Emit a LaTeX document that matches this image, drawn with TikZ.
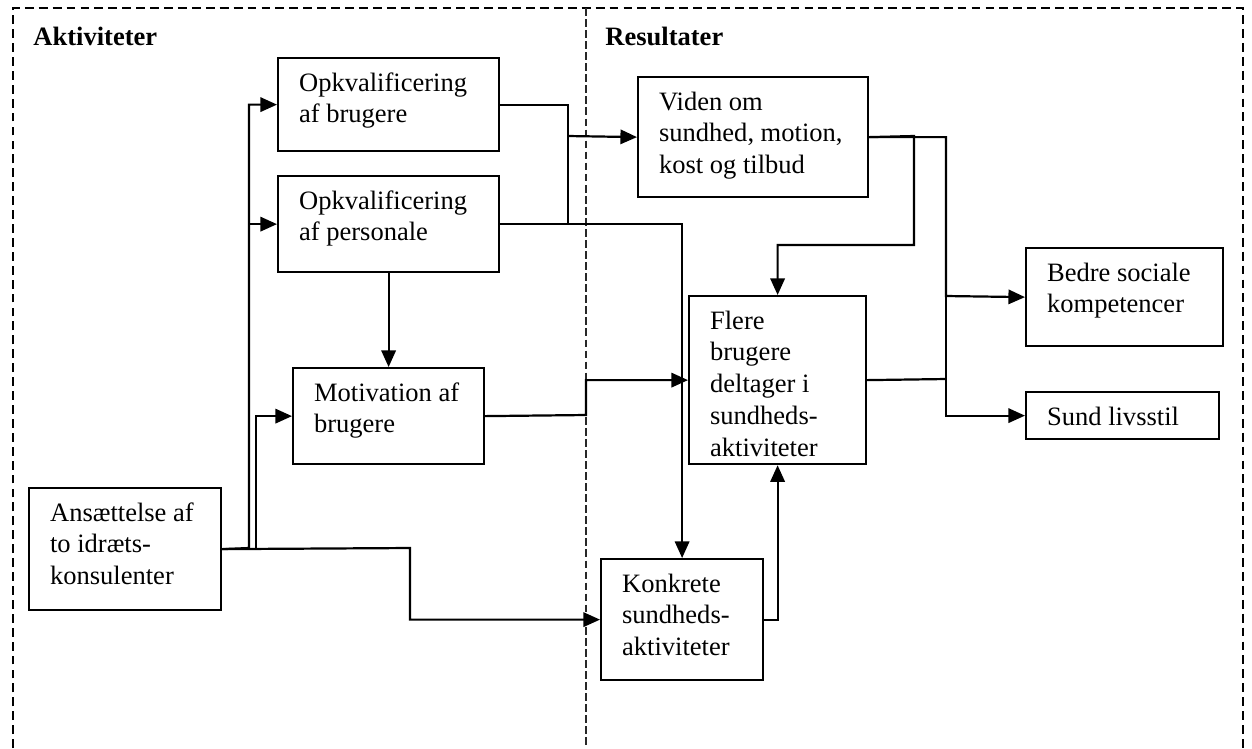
\documentclass[tikz,border=0pt]{standalone}
\usepackage{fontspec}
\setmainfont{Liberation Serif}
\usepackage{tikz}
\usetikzlibrary{arrows.meta, calc}
\newlength{\pxu}
\setlength{\pxu}{0.4525pt}
\newcommand{\boxtext}[3]{\parbox[c][#2\pxu][t]{#1\pxu}{\raggedright\leftskip=21\pxu\rule{0pt}{33\pxu}#3}}
\definecolor{frameGray}{RGB}{40, 40, 40}
\tikzset{
    base/.style={
        font=\fontsize{12pt}{14.4pt}\selectfont
    },
    blok/.style={
        base,
        draw,
        line width=1pt,
        inner sep=0pt,
        anchor=north west
    },
    head/.style={
        font=\fontsize{12pt}{14.4pt}\selectfont\bfseries,
        anchor=base west,
        inner sep=0pt
    },
    flow/.style={
        -{Triangle[length=7.5pt, width=6.5pt]},
        line width=1pt
    },
    wire/.style={
        line width=1pt
    },
    frame/.style={
        dash pattern=on 4pt off 2.3pt,
        line width=0.6pt
    },
    divider/.style={
        dash pattern=on 3.5pt off 1.5pt,
        line width=0.5pt,
        color=frameGray
    }
}
\begin{document}
\begin{tikzpicture}[x=0.4525pt, y=-0.4525pt]
  \useasboundingbox (0,0) rectangle (1252,748);

  % Frame
  \draw[frame] (13,748) -- (13,8) -- (1243,8) -- (1243,748);
  \draw[divider] (586,8) -- (586,748);

  % Headings
  \node[head] (akt) at (33,45) {Aktiviteter};
  \node[head] (res) at (605,45) {Resultater};

  % Activities
  \node[blok] (opkBrug) at (277,57) {\boxtext{221}{93}{Opkvalificering\\af brugere}};
  \node[blok] (opkPers) at (277,175) {\boxtext{221}{96}{Opkvalificering\\af personale}};
  \node[blok] (motiv) at (292,367) {\boxtext{191}{96}{Motivation af\\brugere}};
  \node[blok] (ansat) at (28,487) {\boxtext{192}{122}{Ansættelse af\\to idræts-\\konsulenter}};
  \node[blok] (konkret) at (600,558) {\boxtext{162}{121}{Konkrete\\sundheds-\\aktiviteter}};

  % Results
  \node[blok] (viden) at (637,76) {\boxtext{230}{120}{Viden om\\sundhed, motion,\\kost og tilbud}};
  \node[blok] (flere) at (688,295) {\boxtext{177}{168}{Flere\\brugere\\deltager i\\sundheds-\\aktiviteter}};
  \node[blok] (bedre) at (1025,247) {\boxtext{197}{98}{Bedre sociale\\kompetencer}};
  \node[blok] (sund) at (1025,391) {\boxtext{193}{47}{Sund livsstil}};

  % Connections
  \coordinate (split) at (249,548);
  \coordinate (bus) at (946,296);
  \draw[flow] (ansat.east) -- (split) |- (opkBrug.west);
  \draw[flow] (split) |- (opkPers.west);
  \draw[flow] (256,548) |- (motiv.west);
  \draw[flow] (ansat.east) -- (410,548) |- (konkret.west);
  \draw[flow] (opkPers.south) -- (motiv.north);
  \draw[wire] (opkBrug.east) -| (568,223);
  \draw[flow] (568,136) -- (viden.west);
  \draw[flow] (opkPers.east) -| (konkret.north);
  \draw[flow] (motiv.east) -- (586,415) |- (flere.west);
  \draw[flow] (konkret.east) -| (flere.south);
  \draw[flow] (viden.east) -- (914,136) -- (914,245) -| (flere.north);
  \draw[flow] (viden.east) -| (bus) -- (bedre.west);
  \draw[flow] (bus) |- (sund.west);
  \draw[wire] (flere.east) -- (946,379);
\end{tikzpicture}
\end{document}
